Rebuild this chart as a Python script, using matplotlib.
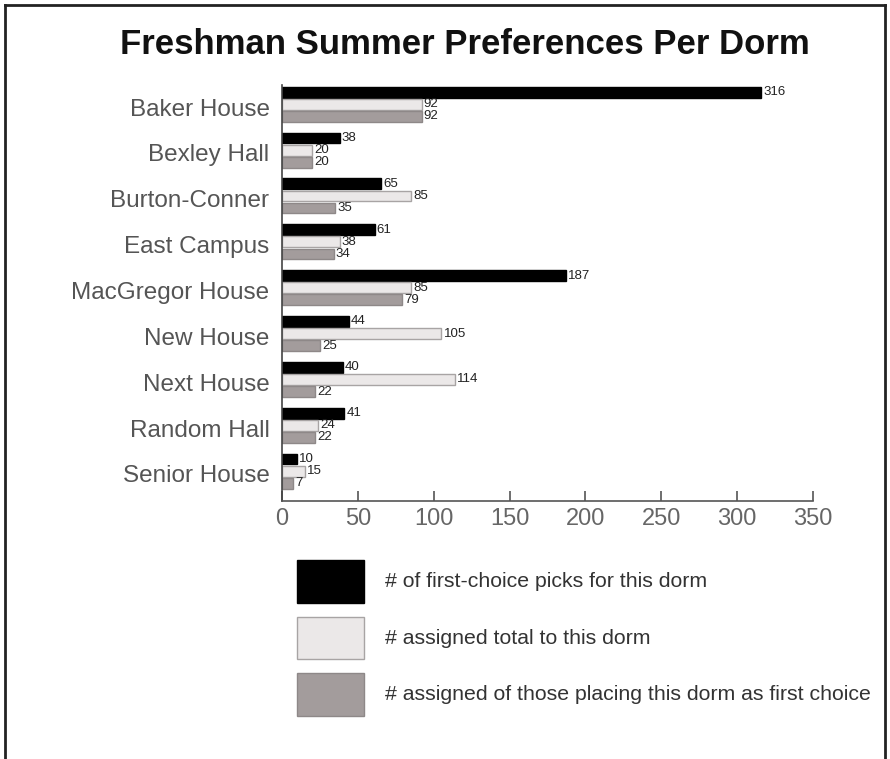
"""
Freshman summer dorm preferences, grouped horizontal bars.
"""
import numpy as np
import matplotlib.pyplot as plt
from matplotlib.patches import Rectangle
from matplotlib.lines import Line2D

dorms = ["Baker House", "Bexley Hall", "Burton-Conner", "East Campus", "MacGregor House",
         "New House", "Next House", "Random Hall", "Senior House"]
first_choice = [316, 38, 65, 61, 187, 44, 40, 41, 10]
assigned_total = [92, 20, 85, 38, 85, 105, 114, 24, 15]
assigned_first = [92, 20, 35, 34, 79, 25, 22, 22, 7]
legend_labels = ["# of first-choice picks for this dorm",
                 "# assigned total to this dorm",
                 "# assigned of those placing this dorm as first choice"]
xticks = [0, 50, 100, 150, 200, 250, 300, 350]

colors = ["#000000", "#ebe8e8", "#a39c9c"]
edges = ["#000000", "#a8a4a4", "#8e8888"]
plt.rcParams["font.family"] = ["Liberation Sans", "DejaVu Sans"]

fig = plt.figure(figsize=(8.9, 7.59), dpi=100)
ax = fig.add_axes([282 / 890, 1 - 501 / 759, 531 / 890, 416 / 759])

y = np.arange(len(dorms))
step = 0.264
series = [first_choice, assigned_total, assigned_first]
for k, vals in enumerate(series):
    pos = y + (k - 1) * step
    ax.barh(pos, vals, height=0.235, color=colors[k], edgecolor=edges[k], linewidth=1)
    for p, v in zip(pos, vals):
        ax.text(v + 1.5, p, str(v), va="center", ha="left", fontsize=9.5, color="#222222")

ax.set_xlim(0, 350)
ax.set_ylim(8.65, -0.42)
ax.set_yticks(y + 0.06)
ax.set_yticklabels(dorms, fontsize=17.5, color="#555555")
ax.tick_params(axis="y", length=0, pad=9)
ax.set_xticks(xticks)
ax.tick_params(axis="x", direction="in", length=7, width=1.2, color="#555555",
               labelsize=17, labelcolor="#666666", pad=5)
for s in ["top", "right"]:
    ax.spines[s].set_visible(False)
ax.spines["left"].set_color("#444444")
ax.spines["bottom"].set_color("#555555")
ax.spines["left"].set_linewidth(1.2)
ax.spines["bottom"].set_linewidth(1.2)

fig.text(465 / 890, 1 - 44 / 759, "Freshman Summer Preferences Per Dorm",
         ha="center", va="center", fontsize=25, fontweight="bold", color="#111111")

# legend drawn by hand under the axis
box_tops = [560, 617, 673]
box_bottoms = [603, 659, 716]
for k in range(3):
    b = 1 - box_bottoms[k] / 759
    h = (box_bottoms[k] - box_tops[k]) / 759
    fig.add_artist(Rectangle((297 / 890, b), 67 / 890, h, transform=fig.transFigure,
                             facecolor=colors[k], edgecolor=edges[k], linewidth=1))
    fig.text(385 / 890, b + h / 2, legend_labels[k], ha="left", va="center",
             fontsize=15.3, color="#333333")

# frame around the picture (no bottom edge)
for xs, ys in [([5, 5], [759, 5]), ([5, 885], [5, 5]), ([885, 885], [5, 759])]:
    fig.add_artist(Line2D([x / 890 for x in xs], [1 - v / 759 for v in ys],
                          transform=fig.transFigure, color="#222222", linewidth=2))

fig.savefig("out.png", dpi=100)
